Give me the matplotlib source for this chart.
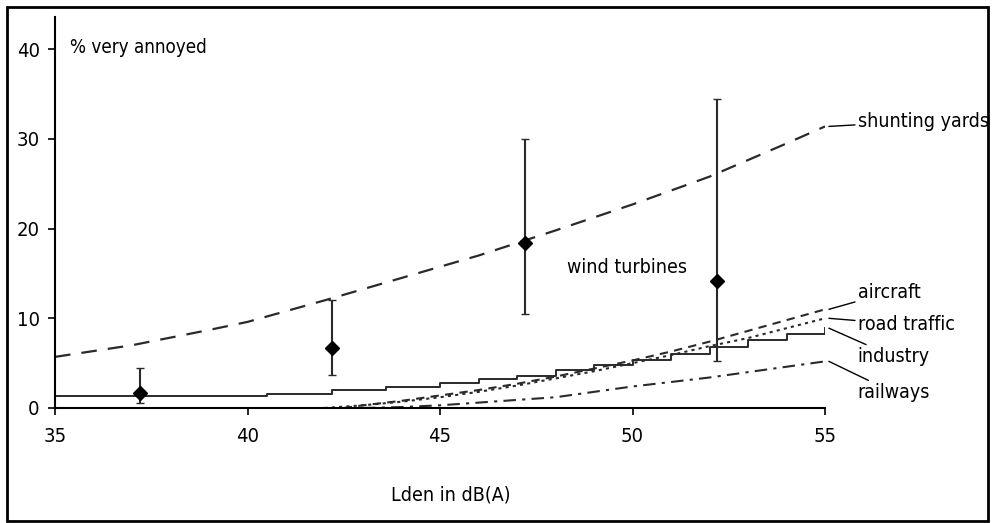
import matplotlib
matplotlib.use('Agg')
import matplotlib.pyplot as plt
from matplotlib.patches import Rectangle

plt.rcParams['font.family'] = ['DejaVu Sans']
plt.rcParams['font.stretch'] = 'condensed'

# wind turbine survey points with error bars
wt_x = [37.2, 42.2, 47.2, 52.2]
wt_y = [1.7, 6.7, 18.4, 14.2]
wt_low = [0.6, 3.7, 10.5, 5.2]
wt_high = [4.5, 12.0, 30.0, 34.5]

# dose-response curves for other sources
shunt_x = [35, 37, 39, 40, 42, 44, 46, 48, 50, 52, 54, 55]
shunt_y = [5.7, 7.0, 8.7, 9.6, 12.0, 14.5, 17.0, 19.8, 22.7, 25.8, 29.5, 31.4]

air_x = [42.5, 43, 44, 45, 46, 47, 48, 49, 50, 51, 52, 53, 54, 55]
air_y = [0.0, 0.3, 0.8, 1.4, 2.0, 2.7, 3.5, 4.4, 5.3, 6.3, 7.4, 8.6, 9.8, 11.0]

road_x = [42, 43, 44, 45, 46, 47, 48, 49, 50, 51, 52, 53, 54, 55]
road_y = [0.0, 0.3, 0.7, 1.2, 1.8, 2.5, 3.3, 4.1, 5.0, 5.9, 6.9, 7.8, 8.9, 10.0]

ind_x = [35, 40.5, 42.2, 43.6, 45, 46, 47, 48, 49, 50, 51, 52, 53, 54, 55]
ind_y = [1.3, 1.6, 2.0, 2.3, 2.8, 3.2, 3.6, 4.2, 4.8, 5.3, 6.0, 6.8, 7.6, 8.3, 8.9]

rail_x = [43, 44, 45, 46, 47, 48, 49, 50, 51, 52, 53, 54, 55]
rail_y = [0.0, 0.1, 0.3, 0.6, 0.9, 1.2, 1.8, 2.4, 2.9, 3.4, 4.0, 4.6, 5.2]

# label name, label y, curve end y
labels = [("shunting yards", 32.0, 31.4),
          ("aircraft", 12.9, 11.0),
          ("road traffic", 9.3, 10.0),
          ("industry", 5.7, 8.9),
          ("railways", 1.7, 5.2)]

fig = plt.figure(figsize=(9.95, 5.23), dpi=100)
ax = fig.add_axes([0.0553, 0.2199, 0.7739, 0.7476])

c = '#2a2a2a'
ax.plot(shunt_x, shunt_y, color=c, lw=1.6, dashes=(7, 5))
ax.plot(air_x, air_y, color=c, lw=1.5, dashes=(4, 3))
ax.plot(road_x, road_y, color=c, lw=1.5, dashes=(1.5, 2))
ax.plot(ind_x, ind_y, color=c, lw=1.4, drawstyle='steps-post')
ax.plot(rail_x, rail_y, color=c, lw=1.5, dashes=(6, 3, 1.5, 3))

yerr = [[y - lo for y, lo in zip(wt_y, wt_low)], [hi - y for y, hi in zip(wt_y, wt_high)]]
ax.errorbar(wt_x, wt_y, yerr=yerr, fmt='D', color='black', ms=7,
            ecolor=c, elinewidth=1.5, capsize=3)

for name, ly, ey in labels:
    ax.annotate(name, xy=(55.1, ey), xytext=(55.85, ly), fontsize=14,
                va='center', ha='left', annotation_clip=False,
                arrowprops=dict(arrowstyle='-', color='black', lw=1.0,
                                shrinkA=0, shrinkB=0))

ax.text(48.3, 15.7, "wind turbines", fontsize=14, va='center', ha='left')
ax.text(35.4, 40.2, "% very annoyed", fontsize=13.5, va='center', ha='left')
fig.text(451 / 995, 1 - 495 / 523, "Lden in dB(A)", fontsize=14,
         ha='center', va='center')

ax.set_xlim(35, 55)
ax.set_ylim(0, 43.6)
ax.set_xticks([35, 40, 45, 50, 55])
ax.set_yticks([0, 10, 20, 30, 40])
for s in ['top', 'right']:
    ax.spines[s].set_visible(False)
ax.spines['left'].set_linewidth(1.5)
ax.spines['bottom'].set_linewidth(1.5)
ax.tick_params(axis='both', labelsize=14.5, width=1.2, length=5)
ax.tick_params(axis='x', pad=9)
ax.tick_params(axis='y', pad=6)

fig.patches.append(Rectangle((0.007, 0.004), 0.986, 0.983, transform=fig.transFigure,
                             fill=False, edgecolor='black', lw=2))

fig.savefig("out.png", dpi=100)
plt.close()
